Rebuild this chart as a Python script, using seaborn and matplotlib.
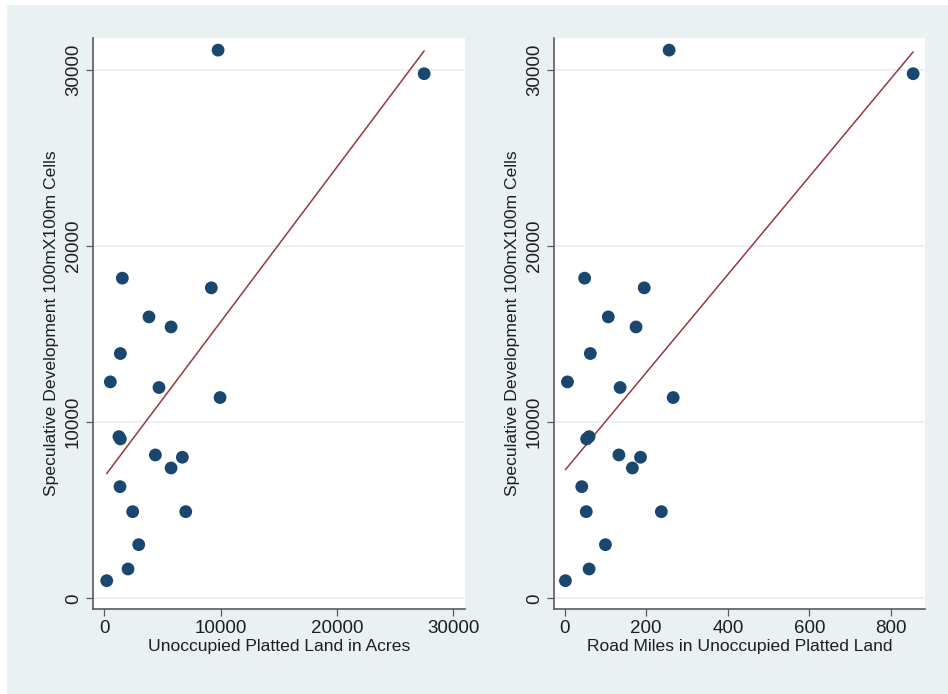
import numpy as np
import pandas as pd
import seaborn as sns
import matplotlib.pyplot as plt
from matplotlib.patches import Rectangle

# Speculative development (count of 100m x 100m cells) per subdivision area
spec_cells = [31130, 29790, 18180, 17630, 15980, 15410, 13900, 12290, 11970,
              11400, 9180, 9050, 8140, 8010, 7400, 6340, 4920, 4920, 3045, 1665, 1000]
# Unoccupied platted land (acres)
platted_acres = [9780, 27490, 1550, 9200, 3840, 5740, 1380, 520, 4700,
                 9950, 1260, 1380, 4390, 6710, 5740, 1350, 2440, 7000, 2960, 2040, 210]
# Road miles in unoccupied platted land
road_miles = [256, 854, 49, 195, 107, 175, 63, 7, 136,
              266, 60, 54, 133, 186, 166, 42, 53, 237, 100, 60, 2]

y_label = "Speculative Development 100mX100m Cells"
x_labels = ["Unoccupied Platted Land in Acres", "Road Miles in Unoccupied Platted Land"]
x_ticks = [[0, 10000, 20000, 30000], [0, 200, 400, 600, 800]]
y_ticks = [0, 10000, 20000, 30000]

df = pd.DataFrame({"cells": spec_cells, "acres": platted_acres, "miles": road_miles})

sns.set_theme(style="white")
plt.rcParams["font.family"] = ["Liberation Sans", "DejaVu Sans"]

BG = "#EAF1F3"
NAVY = "#1A476F"
MAROON = "#94393F"
AXIS = "#5a5a5a"
TEXT = "#1e1e1e"

fig = plt.figure(figsize=(9.48, 6.94), dpi=100, facecolor="white")
fig.patches.append(Rectangle((7 / 948, 0), 1 - 7 / 948, 1 - 5 / 694,
                             transform=fig.transFigure, facecolor=BG,
                             edgecolor="none", zorder=-10))

ax_l = fig.add_axes([93 / 948, 1 - 609 / 694, (465 - 93) / 948, (609 - 38) / 694])
ax_r = fig.add_axes([554 / 948, 1 - 609 / 694, (925 - 554) / 948, (609 - 38) / 694])

panels = [(ax_l, "acres", (-970, 31000)), (ax_r, "miles", (-26, 883))]
for i, (ax, col, xlim) in enumerate(panels):
    ax.set_facecolor("white")
    for yt in y_ticks:
        ax.axhline(yt, color=BG, lw=1.3, zorder=0)
    sns.regplot(data=df, x=col, y="cells", ax=ax, ci=None, truncate=True,
                scatter_kws=dict(s=85, color=NAVY, edgecolor="none", alpha=1, zorder=3),
                line_kws=dict(color=MAROON, lw=1.1, zorder=2))
    ax.set_xlim(*xlim)
    ax.set_ylim(-608, 31818)
    ax.set_xticks(x_ticks[i])
    ax.set_yticks(y_ticks)
    ax.set_xticklabels([str(t) for t in x_ticks[i]])
    ax.set_yticklabels([str(t) for t in y_ticks], rotation=90, va="center")
    ax.set_xlabel(x_labels[i], fontsize=12.6, color=TEXT, labelpad=1)
    ax.set_ylabel(y_label, fontsize=12.6, color=TEXT, labelpad=4)
    ax.tick_params(axis="both", which="major", direction="out", length=5,
                   width=0.9, color=AXIS, labelsize=13.5, labelcolor=TEXT,
                   bottom=True, left=True, pad=3)
    for side in ["top", "right"]:
        ax.spines[side].set_visible(False)
    for side in ["left", "bottom"]:
        ax.spines[side].set_color(AXIS)
        ax.spines[side].set_linewidth(1.2)

fig.savefig("out.png", dpi=100, facecolor=fig.get_facecolor())
